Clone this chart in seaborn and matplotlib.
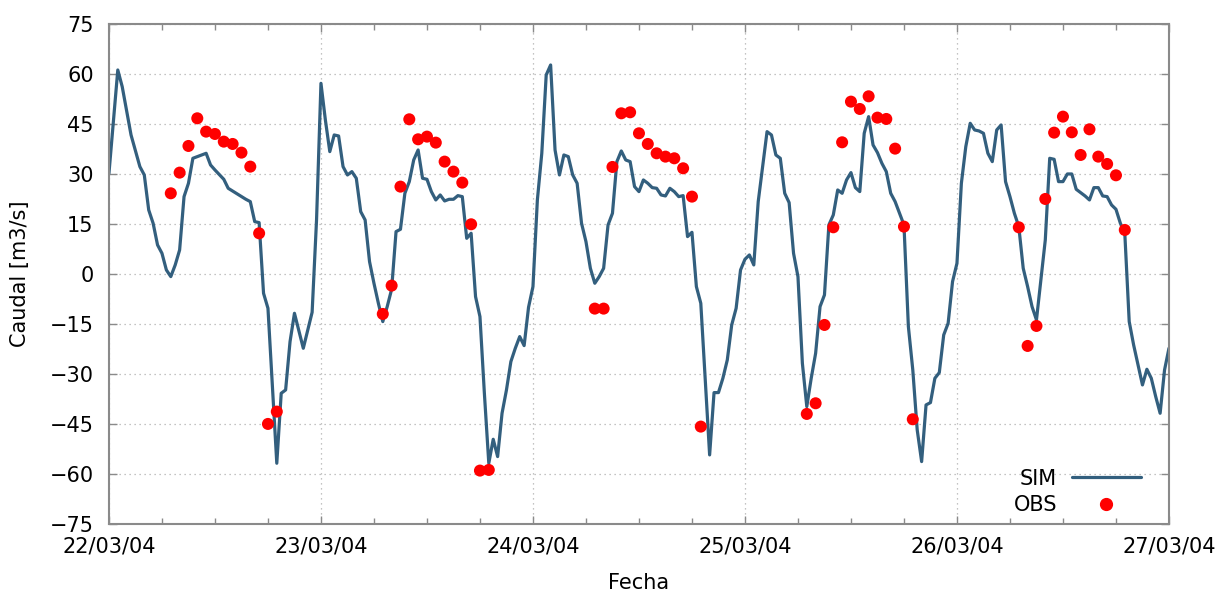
import pandas as pd
import seaborn as sns
import matplotlib
matplotlib.use('Agg')
import matplotlib.pyplot as plt
import matplotlib.dates as mdates
from matplotlib.lines import Line2D

start = pd.Timestamp('2004-03-22 00:00')

# simulated discharge: hours since start, value [m3/s]
sim_hours = [
    0, 1, 1.5, 2.5, 3.5, 4, 4.5, 5, 5.5, 6, 6.5, 7, 7.5, 8, 8.5, 9, 9.5, 10.5, 11, 11.5,
    12, 13, 13.5, 15, 15.5, 16, 16.5, 17, 17.5, 18, 18.5, 19, 19.5, 20, 20.5, 21, 22, 23,
    23.5, 24, 24.5, 25, 25.5, 26, 26.5, 27, 27.5, 28, 28.5, 29, 29.5, 30, 30.5, 31, 31.5,
    32, 32.5, 33, 33.5, 34, 34.5, 35, 35.5, 36, 36.5, 37, 37.5, 38, 38.5, 39, 39.5, 40,
    40.5, 41, 41.5, 42, 42.5, 43, 43.5, 44, 44.5, 45, 45.5, 46, 46.5, 47, 47.5, 48, 48.5,
    49, 49.5, 50, 50.5, 51, 51.5, 52, 52.5, 53, 53.5, 54, 54.5, 55, 55.5, 56, 56.5, 57,
    57.5, 58, 58.5, 59, 59.5, 60, 60.5, 61, 61.5, 62, 62.5, 63, 63.5, 64, 64.5, 65, 65.5,
    66, 66.5, 67, 67.5, 68, 68.5, 69, 69.5, 70, 70.5, 71, 71.5, 72, 72.5, 73, 73.5, 74,
    74.5, 75, 75.5, 76, 76.5, 77, 77.5, 78, 78.5, 79, 79.5, 80, 80.5, 81, 81.5, 82, 82.5,
    83, 83.5, 84, 84.5, 85, 85.5, 86, 86.5, 87, 87.5, 88, 88.5, 89, 89.5, 90, 90.5, 91,
    91.5, 92, 92.5, 93, 93.5, 94, 94.5, 95, 95.5, 96, 96.5, 97, 97.5, 98, 98.5, 99, 99.5,
    100, 100.5, 101, 101.5, 102, 102.5, 103, 103.5, 104, 104.5, 105, 105.5, 106, 106.5,
    107, 107.5, 108, 108.5, 109, 109.5, 110, 110.5, 111, 111.5, 112, 112.5, 113, 113.5,
    114, 114.5, 115, 115.5, 116, 116.5, 117, 117.5, 118, 118.5, 119, 119.5, 120,
]
sim_values = [
    30.2, 61.2, 56.2, 41.7, 32.2, 29.7, 19.2, 15.2, 8.7, 6.2, 1.2, -0.8, 2.7, 7.2, 23.2, 27.2, 34.7, 35.7, 36.2, 32.7,
    31.2, 28.4, 25.7, 23.2, 22.4, 21.7, 15.7, 15.4, -5.8, -10.3, -33.8, -56.8, -35.8, -34.8, -20.3, -11.8, -22.3, -11.5,
    16.2, 57.2, 46.2, 36.7, 41.7, 41.4, 32.2, 29.7, 30.7, 28.7, 18.7, 16.2, 3.7, -2.8, -8.8, -14.3, -9.8,
    -4.6, 12.7, 13.4, 24.2, 27.7, 34.2, 37.2, 28.7, 28.4, 24.7, 22.2, 23.7, 21.9, 22.4, 22.4, 23.5, 23.2,
    10.7, 12.2, -6.8, -12.8, -35.8, -56.8, -49.6, -54.8, -41.8, -34.8, -26.3, -22.3, -18.8, -21.5, -10.0, -3.8, 22.2,
    36.2, 59.7, 62.7, 37.2, 29.7, 35.7, 35.2, 29.7, 27.2, 15.2, 9.7, 1.7, -2.8, -0.8, 1.7, 14.7, 18.2,
    33.7, 36.9, 34.2, 33.7, 26.2, 24.7, 28.2, 27.2, 25.9, 25.7, 23.7, 23.4, 25.7, 24.7, 23.2, 23.5, 11.2,
    12.5, -3.8, -8.8, -31.8, -54.3, -35.6, -35.6, -31.3, -25.8, -15.3, -10.3, 1.2, 4.4, 5.7, 2.7, 21.7, 32.2,
    42.7, 41.7, 35.7, 34.7, 24.2, 21.4, 6.2, -0.8, -26.8, -39.8, -31.3, -23.8, -9.8, -6.3, 14.7, 17.7, 25.2,
    24.2, 28.2, 30.4, 25.9, 24.7, 42.2, 47.2, 38.7, 36.4, 33.2, 30.7, 24.2, 21.7, 18.2, 14.7, -15.8, -28.8,
    -46.8, -56.3, -39.3, -38.6, -31.3, -29.6, -18.3, -14.8, -2.3, 3.2, 27.2, 38.2, 45.2, 43.2, 42.9, 42.2, 36.2,
    33.7, 43.2, 44.7, 27.7, 23.2, 18.2, 14.2, 1.7, -3.8, -9.8, -13.8, -1.8, 10.2, 34.7,
    34.4, 27.7, 27.7, 30.0, 30.0, 25.4, 24.4, 23.4, 22.2, 25.9, 25.9, 23.4, 23.2, 20.7,
    19.4, 15.2, 12.2, -14.3, -21.3, -27.3, -33.3, -28.6, -31.3, -36.8, -41.8, -28.8, -22.3,
]

# observed discharge: hours since start, value [m3/s]
obs_hours = [
    7, 8, 9, 10, 11, 12, 13, 14, 15, 16, 17, 18, 19,
    31, 32, 33, 34, 35, 36, 37, 38, 39, 40, 41, 42, 43,
    55, 56, 57, 58, 59, 60, 61, 62, 63, 64, 65, 66, 67,
    79, 80, 81, 82, 83, 84, 85, 86, 87, 88, 89, 90, 91,
    103, 104, 105, 106, 107, 108, 109, 110, 111, 112, 113, 114, 115,
]
obs_values = [
    24.2, 30.4, 38.4, 46.7, 42.7, 42.0, 39.7, 39.0, 36.4, 32.2, 12.2, -45.0, -41.3,
    -12.0, -3.5, 26.2, 46.4, 40.4, 41.2, 39.4, 33.7, 30.7, 27.4, 14.9, -59.0, -58.8,
    -10.4, -10.4, 32.1, 48.2, 48.5, 42.2, 39.0, 36.2, 35.2, 34.7, 31.7, 23.2, -45.8,
    -42.0, -38.8, -15.3, 14.0, 39.5, 51.7, 49.5, 53.3, 46.9, 46.5, 37.6, 14.2, -43.6,
    14.0, -21.6, -15.6, 22.5, 42.4, 47.2, 42.5, 35.7, 43.4, 35.2, 33.0, 29.6, 13.2,
]

y_ticks = list(range(-75, 76, 15))

sim = pd.DataFrame({'Fecha': start + pd.to_timedelta(sim_hours, unit='h'), 'Caudal': sim_values})
obs = pd.DataFrame({'Fecha': start + pd.to_timedelta(obs_hours, unit='h'), 'Caudal': obs_values})

sns.set_theme(style='white')
plt.rcParams['font.family'] = ['DejaVu Sans']
plt.rcParams['text.color'] = 'black'
plt.rcParams['axes.labelcolor'] = 'black'

line_color = '#335f7e'
frame_color = '#8a8a8a'

fig = plt.figure(figsize=(12.27, 5.92), dpi=100)
ax = fig.add_axes([0.0888, 0.115, 0.8639, 0.8445])

sns.lineplot(data=sim, x='Fecha', y='Caudal', ax=ax, color=line_color, linewidth=2.3)
sns.scatterplot(data=obs, x='Fecha', y='Caudal', ax=ax, color='red', s=75,
                edgecolor='none', zorder=3)

ax.set_xlim(start, start + pd.Timedelta(days=5))
ax.set_ylim(-75, 75)
ax.set_yticks(y_ticks)

ax.xaxis.set_major_locator(mdates.DayLocator())
ax.xaxis.set_major_formatter(mdates.DateFormatter('%d/%m/%y'))
ax.xaxis.set_minor_locator(mdates.HourLocator(byhour=[6, 12, 18]))

ax.tick_params(axis='both', which='both', direction='in', bottom=True, left=True,
               top=True, right=True, color=frame_color, labelsize=15, labelcolor='black')
ax.tick_params(axis='both', which='major', length=6, width=1)
ax.tick_params(axis='x', which='minor', length=4, width=1)
ax.tick_params(axis='x', which='major', pad=9)
ax.tick_params(axis='y', which='major', pad=11)

ax.grid(True, which='major', linestyle=(0, (1, 3)), color='#b0b0b0', linewidth=0.9)
for s in ax.spines.values():
    s.set_color(frame_color)
    s.set_linewidth(1.5)

ax.set_xlabel('Fecha', fontsize=15, labelpad=12, color='black')
ax.set_ylabel('Caudal [m3/s]', fontsize=15, labelpad=14, color='black')

handles = [
    Line2D([], [], color=line_color, linewidth=2.3),
    Line2D([], [], color='red', marker='o', linestyle='none', markersize=8.5),
]
ax.legend(handles, ['SIM', 'OBS'], loc='lower right', frameon=False, markerfirst=False,
          fontsize=15, handlelength=3.3, handletextpad=0.7, labelspacing=0.3,
          borderaxespad=0.2, bbox_to_anchor=(0.985, -0.007))

fig.savefig('out.png', dpi=100)
